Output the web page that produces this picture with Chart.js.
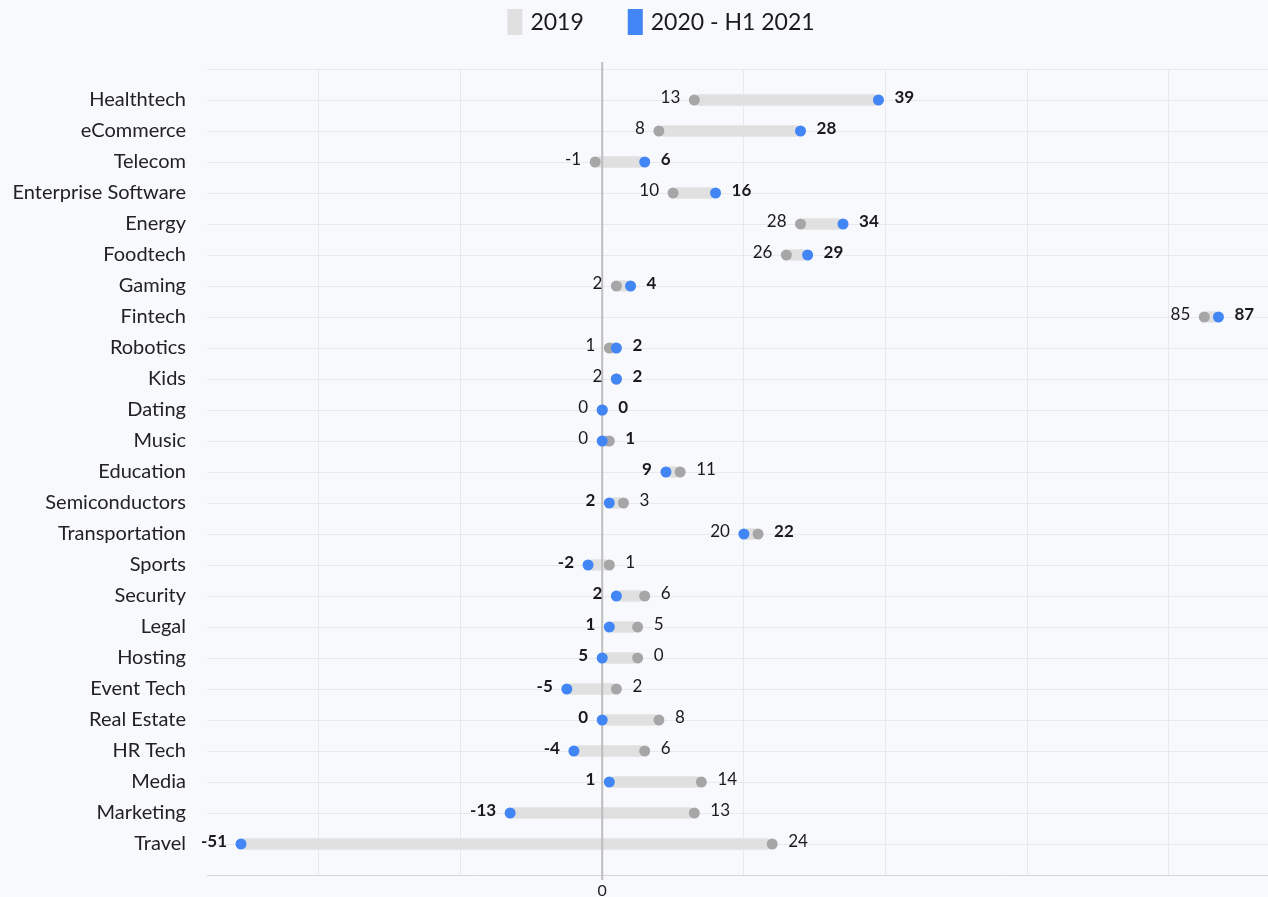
<!DOCTYPE html>
<html>
<head>
<meta charset="utf-8">
<script src="https://cdn.jsdelivr.net/npm/chart.js@4"></script>
<style>
  html, body { margin: 0; padding: 0; background: #f8f9fd; overflow: hidden; }
  #wrap { width: 1268px; height: 897px; }
</style>
</head>
<body>
<div id="wrap"><canvas id="myChart"></canvas></div>
<script>
// categories top to bottom
const categories = ['Healthtech', 'eCommerce', 'Telecom', 'Enterprise Software', 'Energy', 'Foodtech', 'Gaming', 'Fintech',
  'Robotics', 'Kids', 'Dating', 'Music', 'Education', 'Semiconductors', 'Transportation', 'Sports', 'Security', 'Legal',
  'Hosting', 'Event Tech', 'Real Estate', 'HR Tech', 'Media', 'Marketing', 'Travel'];

// gray dots (2019) and blue dots (2020 - H1 2021)
const values2019 = [13, 8, -1, 10, 28, 26, 2, 85, 1, 2, 0, 1, 11, 3, 22, 1, 6, 5, 5, 2, 8, 6, 14, 13, 24];
const values2020 = [39, 28, 6, 16, 34, 29, 4, 87, 2, 2, 0, 0, 9, 1, 20, -2, 2, 1, 0, -5, 0, -4, 1, -13, -51];

// value labels as printed on the chart (left of row / right of row)
const leftLabels  = ['13', '8', '-1', '10', '28', '26', '2', '85', '1', '2', '0', '0', '9', '2', '20', '-2', '2', '1', '5', '-5', '0', '-4', '1', '-13', '-51'];
const rightLabels = ['39', '28', '6', '16', '34', '29', '4', '87', '2', '2', '0', '1', '11', '3', '22', '1', '6', '5', '0', '2', '8', '6', '14', '13', '24'];
const boldRight   = [true, true, true, true, true, true, true, true, true, true, true, true, false, false, true,
  false, false, false, false, false, false, false, false, false, false];

const xTicks = [-40, -20, 0, 20, 40, 60, 80];
const legendItems = ['2019', '2020 - H1 2021'];

const GRAY_BAR = '#e0e0e0';
const GRAY_DOT = '#a6a6a6';
const BLUE = '#4285f4';
const FONT = 'Lato, "Noto Sans", sans-serif';

// zero line goes over the bars but under the dots
const zeroLine = {
  id: 'zeroLine',
  afterDatasetDraw(chart, args) {
    if (args.index !== 0) return;
    const c = chart.ctx, x = chart.scales.x.getPixelForValue(0), a = chart.chartArea;
    c.save();
    c.strokeStyle = '#bdbdbd';
    c.lineWidth = 2;
    c.beginPath();
    c.moveTo(x, a.top - 7);
    c.lineTo(x, a.bottom + 5);
    c.stroke();
    c.restore();
  }
};

const valueLabels = {
  id: 'valueLabels',
  afterDatasetsDraw(chart) {
    const c = chart.ctx, xs = chart.scales.x, ys = chart.scales.y;
    c.save();
    c.textBaseline = 'middle';
    c.fillStyle = '#1a1a1a';
    categories.forEach((cat, i) => {
      const lo = Math.min(values2019[i], values2020[i]);
      const hi = Math.max(values2019[i], values2020[i]);
      const y = ys.getPixelForValue(i) - 2;
      c.font = (boldRight[i] ? '' : 'bold ') + '17px ' + FONT;
      c.textAlign = 'right';
      c.fillText(leftLabels[i], xs.getPixelForValue(lo) - 14, y);
      c.font = (boldRight[i] ? 'bold ' : '') + '17px ' + FONT;
      c.textAlign = 'left';
      c.fillText(rightLabels[i], xs.getPixelForValue(hi) + 16, y);
    });
    c.restore();
  }
};

// legend: tall colour boxes, centred a bit right of the page centre
const legendTop = {
  id: 'legendTop',
  afterDraw(chart) {
    const c = chart.ctx;
    const colors = [GRAY_BAR, BLUE];
    c.save();
    c.font = '23px ' + FONT;
    c.textBaseline = 'middle';
    c.textAlign = 'left';
    const widths = legendItems.map(t => c.measureText(t).width);
    const total = widths.reduce((s, w) => s + w + 23, 0) + 44;
    let x = 661 - total / 2;
    legendItems.forEach((t, i) => {
      c.fillStyle = colors[i];
      c.fillRect(x, 9, 15, 26);
      c.fillStyle = '#1a1a1a';
      c.fillText(t, x + 23, 23);
      x += 23 + widths[i] + 44;
    });
    c.restore();
  }
};

new Chart(document.getElementById('myChart'), {
  type: 'bar',
  data: {
    datasets: [{
      label: 'range',
      type: 'bar',
      indexAxis: 'y',
      data: categories.map((c, i) => ({ x: [values2019[i], values2020[i]], y: i })),
      backgroundColor: GRAY_BAR,
      barThickness: 11,
      borderSkipped: false,
      borderRadius: 5,
      order: 2
    }, {
      label: '2019',
      type: 'line',
      showLine: false,
      data: categories.map((c, i) => ({ x: values2019[i], y: i })),
      pointRadius: 5.5,
      pointBorderWidth: 0,
      pointBackgroundColor: GRAY_DOT,
      order: 1
    }, {
      label: '2020 - H1 2021',
      type: 'line',
      showLine: false,
      data: categories.map((c, i) => ({ x: values2020[i], y: i })),
      pointRadius: 5.5,
      pointBorderWidth: 0,
      pointBackgroundColor: BLUE,
      order: 0
    }]
  },
  options: {
    responsive: true,
    maintainAspectRatio: false,
    animation: false,
    events: [],
    layout: { autoPadding: false, padding: { top: 69, right: 0, left: 0, bottom: 0 } },
    scales: {
      x: {
        type: 'linear',
        min: -55.8,
        max: 94,
        offset: false,
        afterBuildTicks: s => { s.ticks = xTicks.map(v => ({ value: v })); },
        afterFit: s => {
          s.height = 22;
          s.paddingLeft = 0;
          s.paddingRight = 0;
        },
        ticks: {
          callback: v => (v === 0 ? '0' : ''),
          color: '#222',
          font: { family: FONT, size: 16 },
          padding: 6,
          maxRotation: 0
        },
        grid: {
          offset: false,
          color: ctx => (ctx.tick && ctx.tick.value === 0 ? 'rgba(0,0,0,0)' : '#e8e9ee'),
          drawTicks: false
        },
        border: { color: '#d6d6d9', width: 1 }
      },
      y: {
        type: 'linear',
        reverse: true,
        min: -1,
        max: 25,
        offset: false,
        afterBuildTicks: s => {
          const t = [];
          for (let v = -1; v <= 25; v++) t.push({ value: v });
          s.ticks = t;
        },
        afterFit: s => {
          s.width = 207;
          s.paddingTop = 0;
          s.paddingBottom = 0;
        },
        ticks: {
          callback: v => (categories[v] !== undefined ? categories[v] : ''),
          color: '#222',
          font: { family: FONT, size: 20 },
          padding: 21,
          autoSkip: false
        },
        grid: { offset: false, color: '#e8e9ee', drawTicks: false },
        border: { display: false }
      }
    },
    plugins: {
      tooltip: { enabled: false },
      legend: { display: false }
    }
  },
  plugins: [zeroLine, valueLabels, legendTop]
});
</script>
</body>
</html>
